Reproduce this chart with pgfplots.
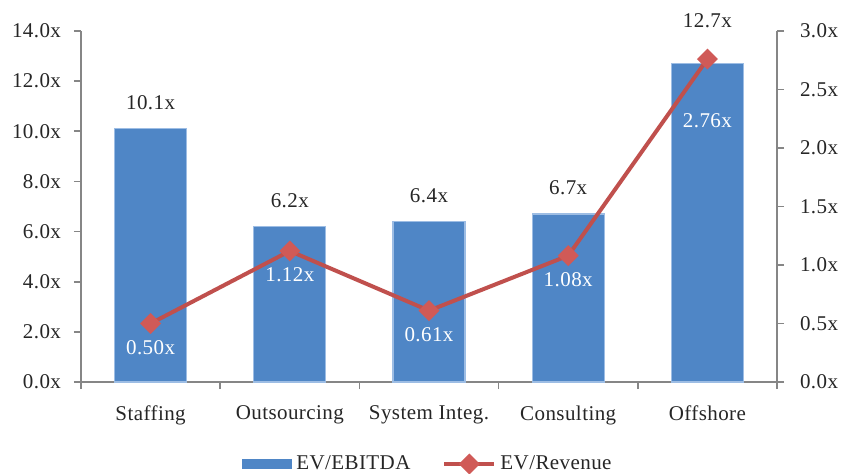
\documentclass[border=0pt]{standalone}
\usepackage{fontspec}
\setmainfont{Liberation Serif}[LetterSpace=2.0]
\usepackage{pgfplots}
\pgfplotsset{compat=1.18}

\definecolor{barblue}{HTML}{4F86C6}
\definecolor{baredge}{HTML}{9DBDE4}
\definecolor{linered}{HTML}{C0504D}
\definecolor{markred}{HTML}{D05A57}
\definecolor{axisgray}{HTML}{868686}
\definecolor{txt}{HTML}{262626}

\begin{document}
\begin{tikzpicture}[font=\fontsize{10.5}{12}\selectfont, text=txt]
\pgfplotsset{
  base/.style={
    scale only axis, width=348pt, height=175.5pt,
    xmin=-0.5, xmax=4.5, ymin=0,
    axis line style={axisgray, line width=0.8pt},
    tick style={axisgray, line width=0.8pt},
    tick align=outside, major tick length=3.5pt,
    /pgf/number format/assume math mode=true,
    clip=false,
  },
  barlabel/.style={draw=none, mark=none,
    nodes near coords={\pgfmathprintnumber[fixed,fixed zerofill,precision=1]{\pgfplotspointmeta}x},
    nodes near coords style={anchor=south, yshift=#1, text=txt}},
  linelabel/.style={draw=none, mark=none,
    nodes near coords={\pgfmathprintnumber[fixed,fixed zerofill,precision=2]{\pgfplotspointmeta}x},
    nodes near coords style={anchor=north, yshift=#1, text=white}},
}
% EV/EBITDA bars on the left axis
\begin{axis}[base,
  ymax=14, ytick={0,2,...,14},
  axis y line*=left, axis x line*=bottom,
  xtick={0,...,4},
  xticklabels={Staffing,Outsourcing,System Integ.,Consulting,Offshore},
  major x tick style={draw=none},
  minor xtick={-0.5,0.5,...,4.5},
  minor tick length=3.5pt,
  xticklabel style={yshift=-5pt, text=txt},
  yticklabel={\pgfmathprintnumber[fixed,fixed zerofill,precision=1]{\tick}x},
  yticklabel style={xshift=-3pt, text=txt},
]
\addplot[ybar, bar width=36pt, fill=barblue, draw=baredge, line width=0.6pt]
  coordinates {(0,10.1) (1,6.2) (2,6.4) (3,6.7) (4,12.7)};
% value labels above the bars
\addplot[barlabel=6pt] coordinates {(0,10.1) (1,6.2) (2,6.4) (3,6.7)};
\addplot[barlabel=14.5pt] coordinates {(4,12.7)};
\end{axis}
% EV/Revenue line on the right axis
\begin{axis}[base,
  ymax=3, ytick={0,0.5,...,3},
  axis y line*=right, axis x line=none,
  yticklabel={\pgfmathprintnumber[fixed,fixed zerofill,precision=1]{\tick}x},
  yticklabel style={xshift=4.5pt, text=txt},
  legend style={at={(0.5,0)}, anchor=center, yshift=-41pt, draw=none, fill=none,
    legend columns=2, font=\fontsize{10.5}{12}\selectfont, text=txt,
    /tikz/every even column/.append style={column sep=14pt}},
]
\addlegendimage{legend image code/.code={\fill[barblue] (0pt,-2.4pt) rectangle (24.5pt,2.4pt);}}
\addlegendentry{EV/EBITDA}
\addplot[linered, line width=2pt, mark=square*, mark size=3.4pt,
  mark options={fill=markred, draw=markred, line width=0.6pt, rotate=45, rounded corners=0.8pt},
  legend image code/.code={\draw[mark repeat=2,mark phase=2] plot coordinates {(0pt,0pt) (12.5pt,0pt) (25pt,0pt)};}]
  coordinates {(0,0.50) (1,1.12) (2,0.61) (3,1.08) (4,2.76)};
\addlegendentry{EV/Revenue}
% value labels below the markers
\addplot[linelabel=-5pt, forget plot] coordinates {(0,0.50) (1,1.12) (2,0.61) (3,1.08)};
\addplot[linelabel=-23.5pt, forget plot] coordinates {(4,2.76)};
\end{axis}
\pgfresetboundingbox
\path (-40.5pt,-45.5pt) rectangle (380pt,191pt);
\end{tikzpicture}
\end{document}
